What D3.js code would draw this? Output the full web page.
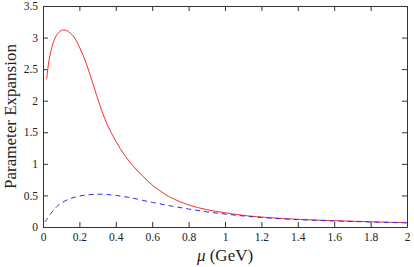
<!DOCTYPE html>
<html>
<head>
<meta charset="utf-8">
<script src="https://cdn.jsdelivr.net/npm/d3@7"></script>
<style>
  body { margin: 0; background: #fff; }
  svg { display: block; }
</style>
</head>
<body>
<svg id="chart" width="414" height="267"></svg>
<script>
// values
const redMu  = [0.02, 0.03, 0.04, 0.06, 0.08, 0.10, 0.115, 0.13, 0.15, 0.17, 0.20, 0.24, 0.28, 0.31, 0.35, 0.40, 0.45, 0.50, 0.55, 0.60, 0.66, 0.70, 0.80, 0.90, 1.00, 1.10, 1.20, 1.40, 1.60, 1.80, 2.00];
const redVal = [2.34, 2.58, 2.74, 2.95, 3.06, 3.11, 3.12, 3.11, 3.07, 3.01, 2.85, 2.57, 2.22, 1.95, 1.64, 1.36, 1.13, 0.95, 0.80, 0.665, 0.54, 0.47, 0.35, 0.275, 0.225, 0.185, 0.158, 0.122, 0.100, 0.083, 0.068];

const blueMu  = [0.01, 0.02, 0.05, 0.075, 0.10, 0.15, 0.20, 0.25, 0.30, 0.35, 0.40, 0.48, 0.60, 0.70, 0.80, 0.90, 1.00, 1.10, 1.20, 1.40, 1.60, 1.80, 2.00];
const blueVal = [0.08, 0.12, 0.24, 0.32, 0.38, 0.45, 0.49, 0.51, 0.52, 0.515, 0.50, 0.465, 0.39, 0.335, 0.285, 0.24, 0.205, 0.175, 0.15, 0.117, 0.096, 0.08, 0.066];

const xTicks = [0, 0.2, 0.4, 0.6, 0.8, 1, 1.2, 1.4, 1.6, 1.8, 2];
const yTicks = [0, 0.5, 1, 1.5, 2, 2.5, 3, 3.5];

const margin = { top: 6, right: 7, bottom: 40, left: 43 };
const width = 414 - margin.left - margin.right;
const height = 267 - margin.top - margin.bottom;
const font = "'Liberation Serif', 'Times New Roman', Times, serif";

const svg = d3.select("#chart");
const g = svg.append("g").attr("transform", `translate(${margin.left},${margin.top})`);

const x = d3.scaleLinear().domain([0, 2]).range([0, width]);
const y = d3.scaleLinear().domain([0, 3.5]).range([height, 0]);

// axes with inward ticks, mirrored on top and right
const fmt = d => String(d);
const axBottom = g.append("g").attr("transform", `translate(0,${height})`)
  .call(d3.axisBottom(x).tickValues(xTicks).tickFormat(fmt).tickSizeInner(-5).tickSizeOuter(0).tickPadding(6));
const axLeft = g.append("g")
  .call(d3.axisLeft(y).tickValues(yTicks).tickFormat(fmt).tickSizeInner(-5).tickSizeOuter(0).tickPadding(5));
const axTop = g.append("g")
  .call(d3.axisTop(x).tickValues(xTicks).tickFormat("").tickSizeInner(-5).tickSizeOuter(0));
const axRight = g.append("g").attr("transform", `translate(${width},0)`)
  .call(d3.axisRight(y).tickValues(yTicks).tickFormat("").tickSizeInner(-5).tickSizeOuter(0));

[axBottom, axLeft, axTop, axRight].forEach(a => {
  a.attr("font-family", null).attr("font-size", null);
  a.select(".domain").attr("stroke", "#333");
  a.selectAll(".tick line").attr("stroke", "#333");
  a.selectAll(".tick text").attr("fill", "#222")
    .style("font-family", font).style("font-size", "11.5px");
});

// curves
const line = d3.line().curve(d3.curveCatmullRom.alpha(0.5)).x(d => x(d[0])).y(d => y(d[1]));

g.append("path")
  .datum(d3.zip(redMu, redVal))
  .attr("d", line)
  .attr("fill", "none")
  .attr("stroke", "#ff2a2a")
  .attr("stroke-width", 1);

g.append("path")
  .datum(d3.zip(blueMu, blueVal))
  .attr("d", line)
  .attr("fill", "none")
  .attr("stroke", "#2a2aff")
  .attr("stroke-width", 1)
  .attr("stroke-dasharray", "5,4");

// axis titles
svg.append("text")
  .attr("transform", `translate(16,${margin.top + height / 2}) rotate(-90)`)
  .attr("text-anchor", "middle")
  .style("font-family", font)
  .style("font-size", "17px")
  .attr("fill", "#222")
  .text("Parameter Expansion");

const xl = svg.append("text")
  .attr("x", margin.left + width / 2)
  .attr("y", 261)
  .attr("text-anchor", "middle")
  .style("font-family", font)
  .style("font-size", "17px")
  .attr("fill", "#222");
xl.append("tspan").style("font-style", "italic").text("μ");
xl.append("tspan").text(" (GeV)");
</script>
</body>
</html>
